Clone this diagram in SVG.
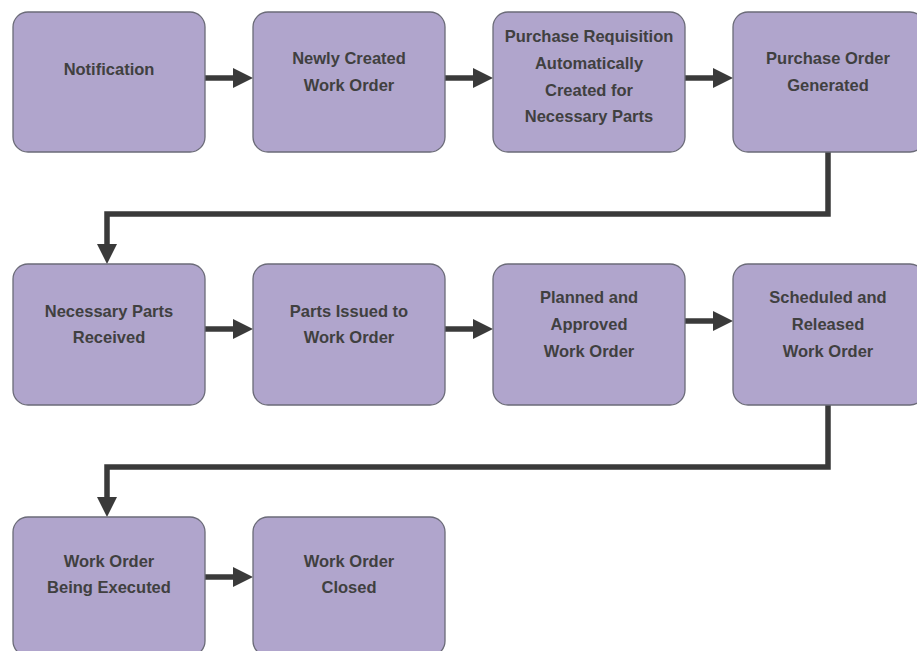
<svg xmlns="http://www.w3.org/2000/svg" width="917" height="651" viewBox="0 0 917 651">
<style>
.box{fill:#b0a5cc;stroke:#6b6b78;stroke-width:1.3}
.lbl{font-family:"Liberation Sans",Arial,sans-serif;font-weight:bold;font-size:16.5px;fill:#404040;text-anchor:middle}
.con{fill:none;stroke:#3a3a3a;stroke-width:5.5}
</style>
<defs>
<marker id="ah" markerUnits="userSpaceOnUse" markerWidth="21" markerHeight="21" refX="0" refY="10" orient="auto" viewBox="0 0 21 20">
<path d="M0,0 L20,10 L0,20 z" fill="#3a3a3a"/>
</marker>
</defs>
<rect width="917" height="651" fill="#ffffff"/>
<g id="connectors">
<line class="con" x1="205" y1="78" x2="233" y2="78" marker-end="url(#ah)"/>
<line class="con" x1="445" y1="78" x2="473" y2="78" marker-end="url(#ah)"/>
<line class="con" x1="685" y1="78" x2="713" y2="78" marker-end="url(#ah)"/>
<polyline class="con" points="828,152 828,214 107,214 107,244" marker-end="url(#ah)"/>
<line class="con" x1="205" y1="329" x2="233" y2="329" marker-end="url(#ah)"/>
<line class="con" x1="445" y1="329" x2="473" y2="329" marker-end="url(#ah)"/>
<line class="con" x1="685" y1="321" x2="713" y2="321" marker-end="url(#ah)"/>
<polyline class="con" points="828,405 828,467 107,467 107,497" marker-end="url(#ah)"/>
<line class="con" x1="205" y1="577" x2="233" y2="577" marker-end="url(#ah)"/>
</g>
<g id="n1"><rect class="box" x="13" y="12" width="192" height="140" rx="15"/><text class="lbl" x="109" y="75">Notification</text></g>
<g id="n2"><rect class="box" x="253" y="12" width="192" height="140" rx="15"/><text class="lbl" x="349" y="64">Newly Created</text><text class="lbl" x="349" y="91">Work Order</text></g>
<g id="n3"><rect class="box" x="493" y="12" width="192" height="140" rx="15"/><text class="lbl" x="589" y="42">Purchase Requisition</text><text class="lbl" x="589" y="69">Automatically</text><text class="lbl" x="589" y="96">Created for</text><text class="lbl" x="589" y="122">Necessary Parts</text></g>
<g id="n4"><rect class="box" x="733" y="12" width="192" height="140" rx="15"/><text class="lbl" x="828" y="64">Purchase Order</text><text class="lbl" x="828" y="91">Generated</text></g>
<g id="n5"><rect class="box" x="13" y="264" width="192" height="141" rx="15"/><text class="lbl" x="109" y="317">Necessary Parts</text><text class="lbl" x="109" y="343">Received</text></g>
<g id="n6"><rect class="box" x="253" y="264" width="192" height="141" rx="15"/><text class="lbl" x="349" y="317">Parts Issued to</text><text class="lbl" x="349" y="343">Work Order</text></g>
<g id="n7"><rect class="box" x="493" y="264" width="192" height="141" rx="15"/><text class="lbl" x="589" y="303">Planned and</text><text class="lbl" x="589" y="330">Approved</text><text class="lbl" x="589" y="357">Work Order</text></g>
<g id="n8"><rect class="box" x="733" y="264" width="192" height="141" rx="15"/><text class="lbl" x="828" y="303">Scheduled and</text><text class="lbl" x="828" y="330">Released</text><text class="lbl" x="828" y="357">Work Order</text></g>
<g id="n9"><rect class="box" x="13" y="517" width="192" height="139" rx="15"/><text class="lbl" x="109" y="567">Work Order</text><text class="lbl" x="109" y="593">Being Executed</text></g>
<g id="n10"><rect class="box" x="253" y="517" width="192" height="139" rx="15"/><text class="lbl" x="349" y="567">Work Order</text><text class="lbl" x="349" y="593">Closed</text></g>
</svg>
